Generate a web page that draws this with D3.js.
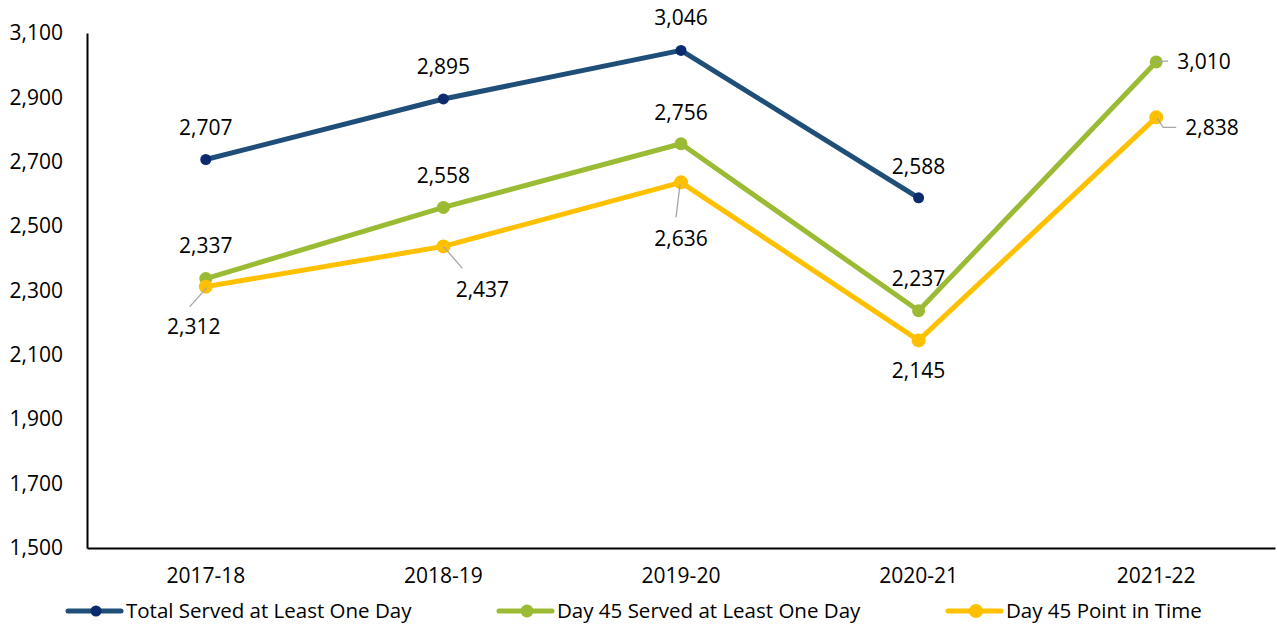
<!DOCTYPE html>
<html>
<head>
<meta charset="utf-8">
<script src="https://cdn.jsdelivr.net/npm/d3@7"></script>
<style>
  body { margin: 0; background: #fff; }
  svg text { font-family: "Open Sans", sans-serif; fill: #000; }
</style>
</head>
<body>
<div id="chart"></div>
<script>
// data
var years = ["2017-18", "2018-19", "2019-20", "2020-21", "2021-22"];
var totalServed = [2707, 2895, 3046, 2588, null];
var day45Served = [2337, 2558, 2756, 2237, 3010];
var day45Point = [2312, 2437, 2636, 2145, 2838];
var yTicks = [1500, 1700, 1900, 2100, 2300, 2500, 2700, 2900, 3100];
var seriesNames = ["Total Served at Least One Day", "Day 45 Served at Least One Day", "Day 45 Point in Time"];

var W = 1277, H = 628;
var margin = { top: 33, right: 2, bottom: 80, left: 87 };
var width = W - margin.left - margin.right,
  height = H - margin.top - margin.bottom;
var fontSize = "21px";

var svg = d3.select("#chart").append("svg")
  .attr("width", W).attr("height", H)
  .append("g")
  .attr("transform", "translate(" + margin.left + "," + margin.top + ")");

var x = d3.scaleBand().domain(years).range([0, width]);
var y = d3.scaleLinear().domain([1500, 3100]).range([height, 0]);

// axes
var yAxis = svg.append("g").call(d3.axisLeft(y).tickValues(yTicks).tickSize(0).tickPadding(24).tickFormat(d3.format(",")));
yAxis.select(".domain").attr("stroke", "#000").attr("stroke-width", 2);
yAxis.selectAll("text").style("font-size", fontSize);

var xAxis = svg.append("g")
  .attr("transform", "translate(0," + height + ")")
  .call(d3.axisBottom(x).tickSize(0).tickPadding(20));
xAxis.select(".domain").attr("stroke", "#000").attr("stroke-width", 2);
xAxis.selectAll("text").style("font-size", fontSize);

// label placement per point: [dx, dy, anchor, leader points relative to point]
var series = [
  { name: seriesNames[0], values: totalServed, line: "#1f4e79", dot: "#0c2a6e", r: 5.5,
    labels: [[0, -32], [0, -32], [0, -33], [0, -31], null] },
  { name: seriesNames[1], values: day45Served, line: "#9bbb34", dot: "#9bbb34", r: 6.5,
    labels: [[0, -33], [0, -32], [0, -31], [0, -32], [21, 0, "start", [[0, 0], [12, -1]]]] },
  { name: seriesNames[2], values: day45Point, line: "#ffc000", dot: "#ffc000", r: 7,
    labels: [[-12, 40, "middle", [[1, 1], [-16, 20]]], [39, 43, "middle", [[0, 0], [19, 22]]],
      [0, 56, "middle", [[-1, 2], [-5, 35]]], [0, 30], [29, 10, "start", [[1, 1], [7, 10], [20, 10]]]] }
];

var line = d3.line()
  .defined(function (d) { return d != null; })
  .x(function (d, i) { return x(years[i]) + x.bandwidth() / 2; })
  .y(function (d) { return y(d); });

series.forEach(function (s) {
  svg.append("path")
    .datum(s.values)
    .attr("fill", "none")
    .attr("stroke", s.line)
    .attr("stroke-width", 5)
    .attr("stroke-linejoin", "round")
    .attr("d", line);
});

series.forEach(function (s) {
  s.values.forEach(function (v, i) {
    if (v == null) return;
    var cx = x(years[i]) + x.bandwidth() / 2, cy = y(v);
    svg.append("circle").attr("cx", cx).attr("cy", cy).attr("r", s.r).attr("fill", s.dot);
    var lb = s.labels[i];
    if (!lb) return;
    if (lb[3]) {
      svg.append("path")
        .attr("fill", "none")
        .attr("stroke", "#a6a6a6")
        .attr("stroke-width", 1.3)
        .attr("d", d3.line()(lb[3].map(function (p) { return [cx + p[0], cy + p[1]]; })));
    }
    svg.append("text")
      .attr("x", cx + lb[0])
      .attr("y", cy + lb[1])
      .attr("dy", "0.35em")
      .attr("text-anchor", lb[2] || "middle")
      .style("font-size", fontSize)
      .text(d3.format(",")(v));
  });
});

// legend
var legendX = [66, 497, 946];
var legend = svg.append("g").attr("transform", "translate(" + (-margin.left) + "," + (611 - margin.top) + ")");
series.forEach(function (s, i) {
  var g = legend.append("g").attr("transform", "translate(" + legendX[i] + ",0)");
  g.append("line").attr("x1", 2).attr("x2", 55).attr("y1", 0).attr("y2", 0)
    .attr("stroke", s.line).attr("stroke-width", 5).attr("stroke-linecap", "round");
  g.append("circle").attr("cx", 30).attr("cy", 0).attr("r", s.r).attr("fill", s.dot);
  g.append("text").attr("x", 60).attr("y", 0).attr("dy", "0.35em")
    .style("font-size", "20.5px").text(s.name);
});
</script>
</body>
</html>
